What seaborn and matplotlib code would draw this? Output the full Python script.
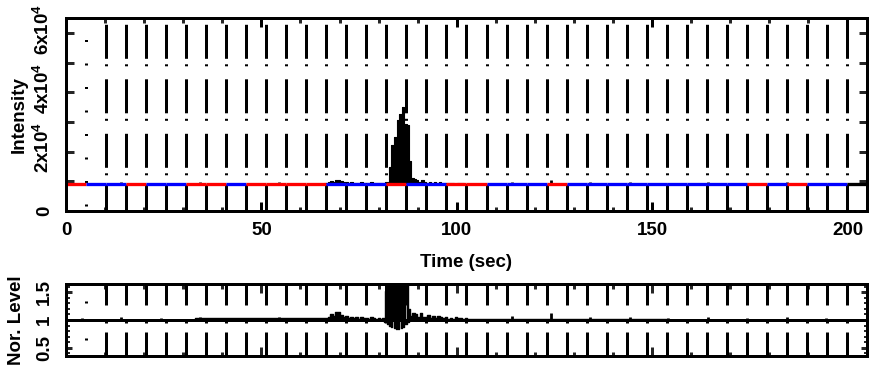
import numpy as np
import pandas as pd
import matplotlib
matplotlib.use("Agg")
import matplotlib.pyplot as plt
import matplotlib.transforms as mtransforms
import seaborn as sns
from matplotlib.ticker import FixedLocator, MultipleLocator

sns.set_theme(style="white")
plt.rcParams['font.family'] = ['Liberation Sans', 'DejaVu Sans']
plt.rcParams['font.weight'] = 'bold'
plt.rcParams['mathtext.fontset'] = 'custom'
plt.rcParams['mathtext.rm'] = 'Liberation Sans:bold'
plt.rcParams['mathtext.it'] = 'Liberation Sans:bold'
plt.rcParams['mathtext.bf'] = 'Liberation Sans:bold'
plt.rcParams['mathtext.default'] = 'rm'
plt.rcParams['lines.scale_dashes'] = False

# ---------------- data ----------------
n_seg = 40
seg_dur = 5.125
seg_colors = ['red', 'blue', 'blue', 'red', 'blue', 'blue', 'red', 'red', 'blue', 'red',
              'red', 'red', 'red', 'blue', 'blue', 'blue', 'red', 'blue', 'blue', 'red',
              'red', 'blue', 'blue', 'blue', 'red', 'blue', 'blue', 'blue', 'blue', 'blue',
              'blue', 'blue', 'blue', 'blue', 'red', 'blue', 'red', 'blue', 'blue', 'black']
seg_bg = [8900, 8900, 8900, 8900, 8900, 8900, 8900, 8900, 8900, 8900,
          8900, 8900, 8900, 8900, 8900, 8900, 8900, 8900, 8900, 8900,
          8900, 8900, 8900, 8900, 8900, 8900, 8900, 8900, 8900, 8900,
          8900, 8900, 8900, 8900, 8900, 8900, 8900, 8900, 8900, 8900]

# intensity samples in the active interval
int_t = [66.0, 66.6, 67.3, 67.9, 68.6, 69.2, 69.8, 70.5, 71.1, 71.8, 72.4, 73.0, 73.7,
         74.3, 75.0, 75.6, 76.2, 76.9, 77.5, 78.2, 78.8, 79.4, 80.1, 80.7, 81.3, 82.0,
         82.4, 83.0, 83.6, 84.3, 84.9, 85.6, 86.2, 86.8, 87.5, 88.1, 88.7, 89.3, 89.9,
         90.5, 91.2, 91.8, 92.5, 93.1, 93.8, 94.4, 95.1, 95.7, 96.4, 97.0, 97.7, 98.3,
         99.0, 99.6, 100.3, 100.9, 101.6, 102.2, 102.9]
int_v = [9300, 9500, 9800, 10000, 9700, 10300, 10400, 9900, 9600, 9800, 9500, 9700, 9400,
         9500, 9300, 9600, 9400, 9500, 9300, 9600, 9400, 9300, 9500, 9200, 9400, 9600,
         9700, 14900, 22200, 24800, 30600, 32700, 34900, 29300, 29000, 16900, 11000, 10600,
         10400, 9700, 10500, 9600, 9500, 9800, 9400, 9600, 9300, 9700, 9500, 9300, 9400,
         9200, 9300, 9100, 9400, 9200, 9300, 9100, 9000]

# small periodic spikes outside the active interval
spk_t = [4.0, 14.1, 24.3, 34.4, 44.5, 54.6, 114.1, 124.0, 134.1, 144.4, 154.1, 164.2,
         174.3, 184.5, 194.6]
spk_int = [9500, 9600, 9500, 9700, 9500, 9600, 9800, 10300, 9700, 9700, 9500, 9600,
           9500, 9600, 9500]
spk_norm = [1.04, 1.05, 1.04, 1.06, 1.04, 1.05, 1.07, 1.12, 1.06, 1.06, 1.04, 1.05,
            1.04, 1.05, 1.04]

# normalized level
norm_t = [0.0, 66.0, 66.6, 67.3, 67.9, 68.6, 69.2, 69.8, 70.5, 71.1, 71.8, 72.4, 73.0, 73.7,
          74.3, 75.0, 75.6, 76.2, 76.9, 77.5, 78.2, 78.8, 79.4, 80.1, 80.7, 81.3,
          81.6, 81.9, 82.2, 82.5, 82.8, 83.1, 83.4, 83.7, 84.0, 84.3, 84.6, 84.9, 85.2,
          85.5, 85.8, 86.1, 86.4, 86.7, 87.0, 87.3, 87.6, 88.0, 88.3, 89.0, 89.6, 90.2,
          90.9, 91.5, 92.2, 92.8, 93.4, 94.1, 94.7, 95.4, 96.0, 96.6, 97.3, 97.9, 98.6,
          99.2, 99.8, 100.5, 101.1, 101.8, 102.4, 103.0, 205.0]
norm_v = [1.0, 1.03, 1.04, 1.06, 1.10, 1.07, 1.14, 1.15, 1.09, 1.05, 1.08, 1.04, 1.06, 1.03,
          1.05, 1.02, 1.05, 1.03, 1.04, 1.02, 1.05, 1.03, 1.02, 1.04, 1.02, 1.03,
          0.97, 1.52, 0.93, 1.80, 0.90, 2.20, 0.87, 2.50, 0.85, 3.00, 0.84, 3.30, 0.84,
          3.60, 0.85, 3.20, 0.87, 3.00, 0.92, 1.70, 0.96, 1.20, 1.08, 1.12, 1.10, 1.05,
          1.12, 1.06, 1.05, 1.09, 1.04, 1.07, 1.03, 1.08, 1.05, 1.03, 1.05, 1.02, 1.04,
          1.02, 1.05, 1.03, 1.04, 1.02, 1.03, 1.01, 1.0]

x_max = 205.0
y1_max = 65000
y2_lim = (0.35, 1.65)
y1_ticks = [0, 10000, 20000, 30000, 40000, 50000, 60000]
y1_labels = ['0', '', '2x10$^{4}$', '', '4x10$^{4}$', '', '6x10$^{4}$']
y2_ticks = [0.5, 1.0, 1.5]
y2_labels = ['0.5', '1', '1.5']
x_ticks = [0, 50, 100, 150, 200]

# ---------------- figure ----------------
PX = 0.72  # points per pixel at 100 dpi
fig = plt.figure(figsize=(8.7, 3.69), dpi=100)
ax1 = fig.add_axes([66/870, 1-210.7/369, 801/870, 192.4/369])
ax2 = fig.add_axes([66/870, 1-356/369, 801/870, 72/369])

bounds = [k * seg_dur for k in range(1, n_seg)]
lw = 3 * PX

# top panel: vertical separators
for i, b in enumerate(bounds):
    if i == 0:
        ls = (21.5*PX - 3*PX, (2*PX, 21.5*PX))
        ax1.plot([b, b], [0, y1_max], color='black', lw=lw, linestyle=ls, zorder=1)
    else:
        ls = (10.8*PX, (34*PX, 13*PX, 2*PX, 5.5*PX))
        ax1.plot([b, b], [0, y1_max], color='black', lw=lw, linestyle=ls, zorder=1)
        ax1.plot([b, b], [0, seg_bg[i]], color='black', lw=lw, solid_capstyle='butt', zorder=1)

# intensity data
bg_arr = np.array(seg_bg)
it = np.array(int_t)
iv = np.array(int_v)
base_i = bg_arr[(it // seg_dur).astype(int)]
ax1.fill_between(it, base_i, iv, step='mid', color='black', lw=0, zorder=2)
df_int = pd.DataFrame({'t': it, 'v': iv})
sns.lineplot(data=df_int, x='t', y='v', ax=ax1, color='black', lw=0.8, drawstyle='steps-mid',
             zorder=2, estimator=None)
st = np.array(spk_t)
ax1.vlines(st, bg_arr[(st // seg_dur).astype(int)], spk_int, color='black', lw=2, zorder=2)

# per-segment background level
starts = [k * seg_dur for k in range(n_seg)]
ends = [(k + 1) * seg_dur for k in range(n_seg)]
ax1.hlines(seg_bg, starts, ends, colors=seg_colors, lw=3.3*PX, zorder=3)

ax1.set_xlim(0, x_max)
ax1.set_ylim(0, y1_max)
ax1.xaxis.set_major_locator(FixedLocator(x_ticks))
ax1.xaxis.set_minor_locator(MultipleLocator(10))
ax1.set_yticks(y1_ticks)
ax1.set_yticklabels([])
ax1.tick_params(axis='x', which='major', direction='in', top=True, bottom=True,
                length=9*PX, width=lw, pad=8, labelsize=13.5, colors='black')
ax1.tick_params(axis='x', which='minor', direction='in', top=True, bottom=True,
                length=4.5*PX, width=lw)
ax1.tick_params(axis='y', which='major', direction='in', left=True, right=True,
                length=8*PX, width=lw)
ax1.set_xlabel('Time (sec)', fontsize=13.5, fontweight='bold', color='black')
ax1.xaxis.set_label_coords(0.5, (210.7-254)/192.4)
ax1.set_ylabel('Intensity', fontsize=13.5, fontweight='bold', color='black')
ax1.yaxis.set_label_coords((28-66)/801, 0.5)

lab_x = (53 - 66) / 801
for v, lab in zip(y1_ticks, y1_labels):
    if lab:
        up = 0 if v == 0 else 4
        tr = mtransforms.blended_transform_factory(ax1.transAxes, ax1.transData) + \
            mtransforms.ScaledTranslation(0, up/100, fig.dpi_scale_trans)
        ax1.text(lab_x, v, lab, transform=tr, rotation=90, ha='right', va='center',
                 fontsize=13.5, fontweight='bold', color='black')

# bottom panel: vertical separators
for i, b in enumerate(bounds):
    if i == 0:
        ls = (21*PX, (2*PX, 35*PX))
    else:
        ls = (0, (24*PX, 9*PX, 2*PX, 16*PX))
    ax2.plot([b, b], [y2_lim[0], y2_lim[1]], color='black', lw=lw, linestyle=ls, zorder=1)

nt = np.array(norm_t)
nv = np.array(norm_v)
ax2.fill_between(nt, 1.0, nv, step='mid', color='black', lw=0, zorder=2)
df_norm = pd.DataFrame({'t': nt, 'v': nv})
sns.lineplot(data=df_norm, x='t', y='v', ax=ax2, color='black', lw=1.0, drawstyle='steps-mid',
             zorder=2, estimator=None)
ax2.vlines(st, 1.0, spk_norm, color='black', lw=2, zorder=2)
ax2.hlines([1.0], [0], [x_max], colors='black', lw=3*PX, zorder=3)

ax2.set_xlim(0, x_max)
ax2.set_ylim(*y2_lim)
ax2.xaxis.set_major_locator(FixedLocator(x_ticks))
ax2.xaxis.set_minor_locator(MultipleLocator(10))
ax2.set_yticks(y2_ticks)
ax2.set_yticklabels([])
ax2.yaxis.set_minor_locator(MultipleLocator(0.1))
ax2.tick_params(axis='x', which='major', direction='in', top=True, bottom=True,
                length=9*PX, width=lw, labelbottom=False)
ax2.tick_params(axis='x', which='minor', direction='in', top=True, bottom=True,
                length=4.5*PX, width=lw)
ax2.tick_params(axis='y', which='major', direction='in', left=True, right=True,
                length=6*PX, width=lw)
ax2.tick_params(axis='y', which='minor', direction='in', left=True, right=True,
                length=3.5*PX, width=2*PX)
ax2.set_xlabel('')
ax2.set_ylabel('Nor. Level', fontsize=13.5, fontweight='bold', color='black')
ax2.yaxis.set_label_coords((25-66)/801, 0.5)

tr2 = mtransforms.blended_transform_factory(ax2.transAxes, ax2.transData)
for v, lab in zip(y2_ticks, y2_labels):
    ax2.text(lab_x, v, lab, transform=tr2, rotation=90, ha='right', va='center',
             fontsize=13.5, fontweight='bold', color='black')

for ax in (ax1, ax2):
    for s in ax.spines.values():
        s.set_color('black')
        s.set_linewidth(lw)
        s.set_zorder(5)
    for lab in ax.get_xticklabels():
        lab.set_fontweight('bold')

fig.savefig('out.png', dpi=100)
